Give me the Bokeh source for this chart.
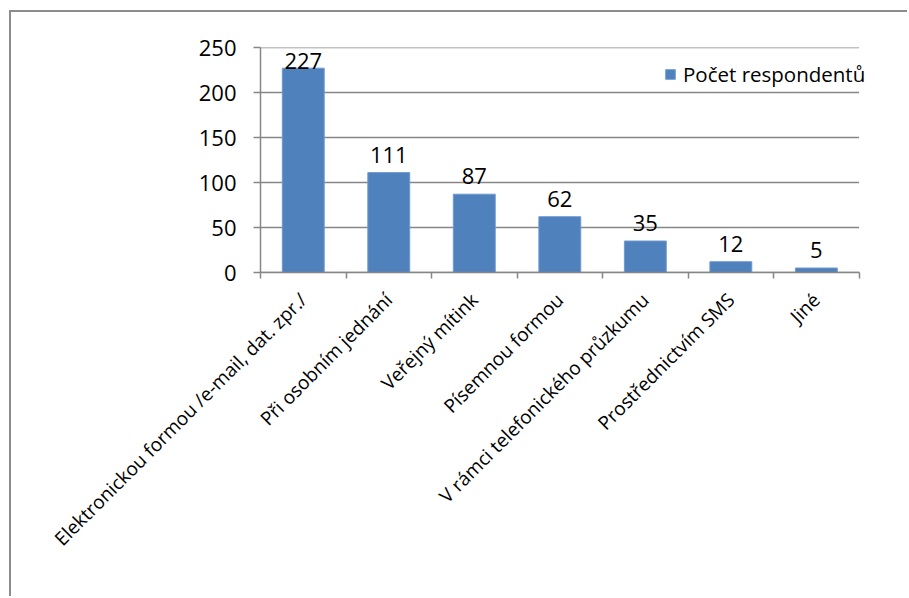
import math
from bokeh.plotting import figure
from bokeh.models import (Range1d, LinearAxis, FixedTicker,
                          Legend, LegendItem, ColumnDataSource)
from bokeh.core.properties import value
from bokeh.embed import file_html
from bokeh.resources import INLINE

categories = ["Elektronickou formou /e-mail, dat. zpr./", "Při osobním jednání", "Veřejný mítink",
              "Písemnou formou", "V rámci telefonického průzkumu", "Prostřednictvím SMS", "Jiné"]
counts = [227, 111, 87, 62, 35, 12, 5]
series_name = "Počet respondentů"
y_ticks = [0, 50, 100, 150, 200, 250]

FONT = "Open Sans"
GRID = "#868686"
BAR = "#4F81BD"

n = len(categories)
centers = [i + 0.5 for i in range(n)]
bounds = list(range(n + 1))

# frame extends a little past the last category so the legend text is not clipped
p = figure(width=898, height=586, output_backend="svg", toolbar_location=None,
           x_range=Range1d(0, n + 0.25), y_range=Range1d(0, 250),
           x_axis_location=None, y_axis_location=None,
           min_border_left=249, min_border_right=29, min_border_top=35, min_border_bottom=326)
p.outline_line_color = None
p.background_fill_color = "white"
p.border_fill_color = "white"
p.styles = {"border-left": "2px solid #8c8c8c", "border-top": "2px solid #8c8c8c",
            "margin-left": "9px", "margin-top": "10px"}

# y axis
yax = LinearAxis(ticker=FixedTicker(ticks=y_ticks))
yax.axis_line_color = GRID
yax.axis_line_width = 1.5
yax.major_tick_line_color = GRID
yax.major_tick_line_width = 1.5
yax.major_tick_in = 0
yax.major_tick_out = 7
yax.minor_tick_line_color = None
yax.major_label_text_font = FONT
yax.major_label_text_font_size = "22px"
yax.major_label_text_color = "black"
yax.major_label_standoff = 17
p.add_layout(yax, "left")

# x axis: labels at category centres, ticks (minor) at category boundaries
xax = LinearAxis(ticker=FixedTicker(ticks=centers, minor_ticks=bounds),
                 major_label_overrides={c: lab for c, lab in zip(centers, categories)})
xax.bounds = (0, n)
xax.axis_line_color = GRID
xax.axis_line_width = 1.5
xax.major_tick_line_color = None
xax.major_tick_in = 0
xax.major_tick_out = 0
xax.minor_tick_line_color = GRID
xax.minor_tick_line_width = 1.5
xax.minor_tick_in = 0
xax.minor_tick_out = 6
xax.major_label_orientation = math.pi / 4
xax.major_label_text_font = FONT
xax.major_label_text_font_size = "19px"
xax.major_label_text_color = "black"
xax.major_label_standoff = 18
p.add_layout(xax, "below")

p.xgrid.grid_line_color = None
p.ygrid.grid_line_color = None

# horizontal gridlines over the category span only
p.segment(x0=[0] * len(y_ticks), x1=[n] * len(y_ticks), y0=y_ticks, y1=y_ticks,
          line_color=GRID, line_width=1.5)

src = ColumnDataSource(dict(x=centers, top=counts,
                            ly=[min(v + 11, 226) for v in counts],
                            lab=[str(v) for v in counts]))
bars = p.vbar(x="x", top="top", width=0.49, source=src, fill_color=BAR, line_color="#6f9ad0",
              line_width=1)
p.text(x="x", y="ly", text="lab", source=src, text_align="center", text_baseline="alphabetic",
       y_offset=-8, text_font=value(FONT), text_font_size="22px", text_color="black")

legend = Legend(items=[LegendItem(label=series_name, renderers=[bars])], location=(404, 184))
legend.background_fill_alpha = 0
legend.border_line_color = None
legend.padding = 0
legend.margin = 0
legend.glyph_width = 12
legend.glyph_height = 12
legend.label_standoff = 7
legend.label_text_font = FONT
legend.label_text_font_size = "20.5px"
legend.label_text_color = "black"
p.add_layout(legend, "center")

open("out.html", "w").write(file_html(p, INLINE))
